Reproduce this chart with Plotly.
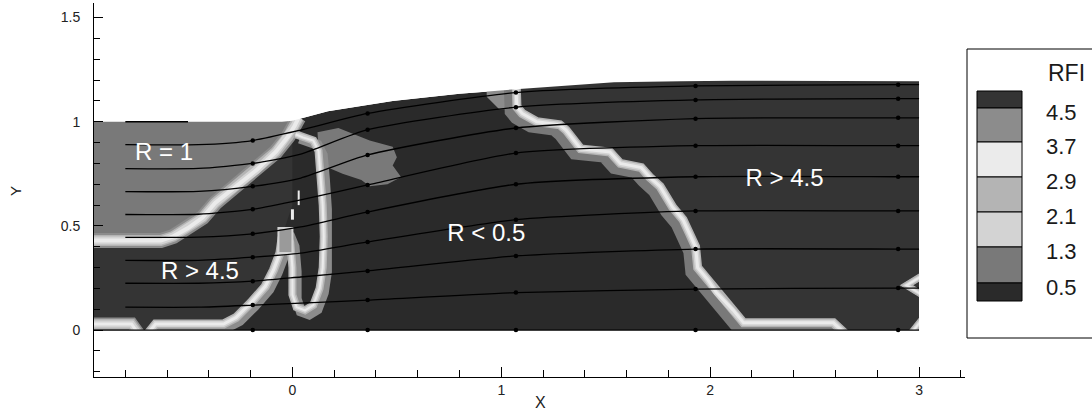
import plotly.graph_objects as go

# ---------------- data ----------------
# top wall of the flow domain
wall_x = [-0.97, -0.05, 0.0, 0.17, 0.48, 0.80, 1.12, 1.54, 1.86, 2.10, 3.0]
wall_y = [1.0, 1.0, 1.005, 1.05, 1.10, 1.135, 1.16, 1.19, 1.195, 1.197, 1.195]

# streamlines: y at stations
sl_x = [-0.8, -0.45, -0.19, 0.04, 0.36, 1.07, 1.93, 2.9, 3.0]
sl_y = [
    [0.11, 0.11, 0.12, 0.13, 0.144, 0.18, 0.197, 0.202, 0.202],
    [0.225, 0.225, 0.235, 0.255, 0.284, 0.356, 0.389, 0.389, 0.389],
    [0.335, 0.335, 0.35, 0.37, 0.423, 0.53, 0.572, 0.572, 0.572],
    [0.445, 0.446, 0.462, 0.495, 0.567, 0.70, 0.736, 0.736, 0.736],
    [0.555, 0.556, 0.58, 0.625, 0.697, 0.85, 0.885, 0.885, 0.885],
    [0.665, 0.666, 0.69, 0.73, 0.841, 0.97, 1.015, 1.019, 1.019],
    [0.775, 0.776, 0.80, 0.845, 0.962, 1.07, 1.105, 1.111, 1.111],
    [0.89, 0.89, 0.91, 0.96, 1.04, 1.14, 1.172, 1.178, 1.178],
]
arrow_idx = [2, 4, 5, 6, 7]
bottom_x = [-0.97, 3.0]
bottom_y = [0, 0]
bottom_arrow_x = [-0.19, 0.36, 1.07, 1.93, 2.9]
bottom_arrow_y = [0, 0, 0, 0, 0]
top_left_x = [-0.8, -0.5]
top_left_y = [1.0, 1.0]

# region R = 1 boundary (band)
r1_x = [-0.97, -0.63, -0.57, -0.50, -0.43, -0.37, -0.27, -0.17, -0.08, -0.02, 0.01, 0.03]
r1_y = [0.43, 0.43, 0.45, 0.49, 0.54, 0.61, 0.69, 0.77, 0.855, 0.93, 0.98, 1.02]

# bottom-left strip with notch and the rising leg
stripa_x = [-0.97, -0.77, -0.735]
stripa_y = [0.029, 0.029, -0.02]
stripb_x = [-0.695, -0.655, -0.33, -0.27, -0.20, -0.13, -0.09, -0.06, -0.05, -0.04]
stripb_y = [-0.02, 0.029, 0.029, 0.06, 0.13, 0.21, 0.29, 0.37, 0.44, 0.48]

# loop near x = 0
loop_x = [-0.035, -0.01, 0.0, 0.0, 0.02, 0.06, 0.10, 0.13, 0.145, 0.15, 0.145, 0.135, 0.125, 0.10, 0.05, 0.015]
loop_y = [0.48, 0.42, 0.30, 0.17, 0.11, 0.095, 0.12, 0.20, 0.30, 0.45, 0.60, 0.75, 0.86, 0.91, 0.925, 0.94]

# main boundary between R < 0.5 and R > 4.5
main_x = [1.07, 1.07, 1.075, 1.10, 1.17, 1.28, 1.31, 1.38, 1.52, 1.57, 1.67, 1.71, 1.76, 1.82, 1.87,
          1.90, 1.93, 1.94, 1.99, 2.03, 2.11, 2.16, 2.59, 2.66]
main_y = [1.22, 1.16, 1.07, 1.04, 1.00, 0.985, 0.96, 0.87, 0.855, 0.80, 0.78, 0.735, 0.69, 0.59, 0.53,
          0.465, 0.40, 0.30, 0.24, 0.18, 0.096, 0.035, 0.035, -0.03]

# gray blob (R ~ 1) right of the loop
blob_x = [0.12, 0.22, 0.37, 0.48, 0.50, 0.48, 0.52, 0.455, 0.37, 0.33, 0.24, 0.17, 0.125]
blob_y = [0.95, 0.97, 0.91, 0.88, 0.83, 0.79, 0.735, 0.70, 0.69, 0.72, 0.75, 0.78, 0.865]
patch_x = [0.93, 1.05, 1.05, 0.99, 0.93]
patch_y = [1.16, 1.17, 1.06, 1.06, 1.12]
box_x = [-0.067, 0.0, 0.0, -0.067, -0.067]
box_y = [0.37, 0.37, 0.49, 0.49, 0.37]
edge1_x = [3.03, 2.94, 3.03]
edge1_y = [0.27, 0.215, 0.16]
edge2_x = [2.95, 3.03]
edge2_y = [-0.03, 0.07]
speck1_x = [0.03, 0.03]
speck1_y = [0.60, 0.67]
speck2_x = [0.0, 0.0]
speck2_y = [0.53, 0.58]

labels = ["R = 1", "R > 4.5", "R < 0.5", "R > 4.5"]
label_x = [-0.615, -0.443, 0.928, 2.356]
label_y = [0.846, 0.274, 0.457, 0.721]

legend_title = "RFI"
legend_levels = ["4.5", "3.7", "2.9", "2.1", "1.3", "0.5"]

# ---------------- styles ----------------
C_LOW = "#2a2a2a"
C_B1 = "#797979"
C_B2 = "#d3d3d3"
C_B3 = "#b4b4b4"
C_B4 = "#ebebeb"
C_B5 = "#8c8c8c"
C_HIGH = "#343434"
legend_colors = [C_HIGH, C_B5, C_B4, C_B3, C_B2, C_B1, C_LOW]
FONT = "Liberation Sans, Arial, sans-serif"

fig = go.Figure()


def poly(xs, ys, color, lw=0, lc=None):
    fig.add_trace(go.Scatter(x=xs, y=ys, mode="lines", fill="toself", fillcolor=color,
                             line=dict(width=lw, color=lc or color), hoverinfo="skip",
                             showlegend=False))


def line(xs, ys, color, w):
    fig.add_trace(go.Scatter(x=xs, y=ys, mode="lines", line=dict(width=w, color=color),
                             hoverinfo="skip", showlegend=False))


def band(xs, ys, shift=(0.0, 0.0), gcol=C_B5, wg=13, wl=9, wm=6, ww=3):
    line([v + shift[0] for v in xs], [v + shift[1] for v in ys], gcol, wg)
    line(xs, ys, C_B3, wl)
    line(xs, ys, C_B2, wm)
    line(xs, ys, C_B4, ww)


# domain
dom_x = [-0.97, 3.0] + wall_x[::-1]
dom_y = [0.0, 0.0] + wall_y[::-1]
poly(dom_x, dom_y, C_LOW)
# right high region
poly(main_x + [3.0, 3.0], main_y + [-0.03, 1.22], C_HIGH)
# lower-left high region
ll_x = [-0.97, -0.3] + stripb_x[3:] + [0.0, 0.0] + r1_x[:-1][::-1]
ll_y = [0.0, 0.0] + stripb_y[3:] + [0.6, 0.95] + r1_y[:-1][::-1]
poly(ll_x, ll_y, C_HIGH)
# R = 1 region
poly(r1_x + [0.03, -0.97], r1_y + [1.05, 1.05], C_B1)
poly(blob_x, blob_y, C_B1)
poly(patch_x, patch_y, C_B5)

# bands
band(r1_x, r1_y, gcol=C_B5, wg=15, wl=11, wm=8, ww=4)
band(stripa_x, stripa_y, gcol=C_B5, wg=13, wl=10, wm=7, ww=3)
band(stripb_x, stripb_y, shift=(0.015, -0.012), gcol=C_B5, wg=12, wl=9, wm=6, ww=3)
band(loop_x, loop_y, shift=(0.02, -0.02), gcol=C_B5, wg=10, wl=8, wm=5, ww=2)
band(main_x, main_y, shift=(-0.03, -0.022), gcol=C_B1, wg=12, wl=9, wm=6, ww=3)
band(edge1_x, edge1_y, gcol=C_B3, wg=7, wl=6, wm=4, ww=2)
band(edge2_x, edge2_y, gcol=C_B3, wg=7, wl=6, wm=4, ww=2)
poly(box_x, box_y, "#9a9a9a", lw=2, lc=C_B2)
line(speck1_x, speck1_y, C_B4, 2)
line(speck2_x, speck2_y, C_B4, 3)

# white masks outside the domain
poly(wall_x + [3.4, 3.4, -0.97], wall_y + [1.195, 1.8, 1.8], "white")
poly([-0.97, 3.4, 3.4, -0.97], [-0.4, -0.4, 0.0, 0.0], "white")
poly([3.0, 3.4, 3.4, 3.0], [-0.4, -0.4, 1.8, 1.8], "white")

# streamlines
for ys in sl_y:
    fig.add_trace(go.Scatter(x=sl_x, y=ys, mode="lines",
                             line=dict(width=1.3, color="black", shape="spline", smoothing=0.6),
                             hoverinfo="skip", showlegend=False))
    fig.add_trace(go.Scatter(x=[sl_x[i] for i in arrow_idx], y=[ys[i] for i in arrow_idx], mode="markers",
                             marker=dict(size=4.5, color="black", line=dict(width=0)),
                             hoverinfo="skip", showlegend=False))
line(bottom_x, bottom_y, "black", 1.3)
fig.add_trace(go.Scatter(x=bottom_arrow_x, y=bottom_arrow_y, mode="markers", cliponaxis=False,
                         marker=dict(size=4.5, color="black", line=dict(width=0)),
                         hoverinfo="skip", showlegend=False))
line(top_left_x, top_left_y, "black", 1.3)

# region labels
fig.add_trace(go.Scatter(x=label_x, y=label_y, mode="text", text=labels,
                         textfont=dict(family=FONT, size=24, color="white"),
                         hoverinfo="skip", showlegend=False))

# ---------------- layout ----------------
L, R, T, B = 94, 965, 3, 377


def px(v):
    return (v - L) / (R - L)


def py(v):
    return (B - v) / (B - T)


shapes = [dict(type="rect", xref="paper", yref="paper", x0=px(967), x1=px(1110), y0=py(338), y1=py(49),
               line=dict(color="black", width=1), fillcolor="white", layer="below")]
edges = [91, 108, 142, 177, 212, 247, 283, 301]
for i, c in enumerate(legend_colors):
    shapes.append(dict(type="rect", xref="paper", yref="paper", x0=px(977), x1=px(1022),
                       y0=py(edges[i + 1]), y1=py(edges[i]), fillcolor=c,
                       line=dict(color="black", width=1)))

annotations = [dict(text=legend_title, x=px(1046), y=py(73.5), xref="paper", yref="paper",
                    xanchor="left", yanchor="middle", showarrow=False,
                    font=dict(family=FONT, size=23, color="#1a1a1a"))]
for lab, e in zip(legend_levels, edges[1:-1]):
    annotations.append(dict(text=lab, x=px(1044), y=py(e + 4), xref="paper", yref="paper",
                            xanchor="left", yanchor="middle", showarrow=False,
                            font=dict(family=FONT, size=22, color="#1a1a1a")))
annotations.append(dict(text="X", x=px(540), y=py(402), xref="paper", yref="paper", showarrow=False,
                        xanchor="center", yanchor="middle",
                        font=dict(family=FONT, size=16, color="#222")))
annotations.append(dict(text="Y", x=px(15), y=py(191), xref="paper", yref="paper", showarrow=False,
                        xanchor="center", yanchor="middle",
                        textangle=-90, font=dict(family=FONT, size=15, color="#222")))

fig.update_layout(
    width=1092, height=414,
    margin=dict(l=L, r=1092 - R, t=T, b=414 - B),
    paper_bgcolor="white", plot_bgcolor="white",
    font=dict(family=FONT, size=13, color="#222"),
    shapes=shapes, annotations=annotations, showlegend=False,
)
fig.update_xaxes(range=[-0.95, 3.22], showgrid=False, zeroline=False, showline=True, linecolor="black",
                 linewidth=1, ticks="inside", ticklen=10, tickcolor="black",
                 tickfont=dict(family=FONT, size=14, color="#222"),
                 tickvals=[0, 1, 2, 3], ticktext=["0", "1", "2", "3"],
                 minor=dict(ticks="inside", ticklen=7, tickcolor="black", dtick=0.2, tick0=0))
fig.update_yaxes(range=[-0.225, 1.57], showgrid=False, zeroline=False, showline=True, linecolor="black",
                 linewidth=1, ticks="inside", ticklen=9, tickcolor="black",
                 tickfont=dict(family=FONT, size=14, color="#222"),
                 tickvals=[0, 0.5, 1, 1.5], ticktext=["0", "0.5", "1", "1.5"], ticklabelstandoff=10,
                 minor=dict(ticks="inside", ticklen=6, tickcolor="black", dtick=0.1, tick0=0))

fig.write_html("out.html", config={"displayModeBar": False},
               post_script="document.body.style.margin='0';document.body.style.overflow='hidden';")
